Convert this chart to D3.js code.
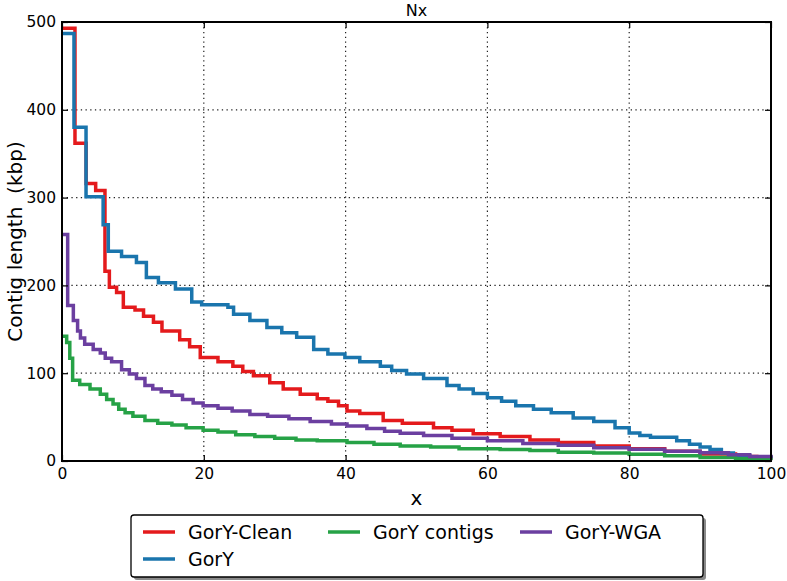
<!DOCTYPE html>
<html>
<head>
<meta charset="utf-8">
<script src="https://cdn.jsdelivr.net/npm/d3@7"></script>
<style>
  body { margin: 0; background: #fff; }
  text { font-family: "DejaVu Sans", sans-serif; fill: #000; }
</style>
</head>
<body>
<svg id="chart"></svg>
<script>
var width = 787;
var height = 581;

var margin = { top: 22, left: 62, bottom: 120, right: 16 };

// series: [x, contig length in kbp]
var goryClean = [[0,493],[1.83,362],[3.4,316],[4.75,308],[6.06,216],[6.68,198],[7.7,192],[8.65,175],[10.3,172],[11.5,165],[12.9,158],[14.1,148],[16.6,138],[18,130],[19.5,118],[22,113],[24.1,108],[25.5,102],[27,97],[29.3,89],[31.2,82],[33.6,76],[36,71],[37.5,68],[39,63],[40.2,57],[42,54],[45.3,46],[48,43],[52.4,38],[55,35],[58,31],[61.8,28],[66,24],[70,21],[75,17],[80,14],[85,11],[90,8],[95,5],[98,4],[100,3]];
var gory = [[0,487],[1.69,380],[3.39,301],[5.8,269],[6.53,239],[8.4,233],[10.5,226],[11.9,209],[13.6,203],[16,196],[18.3,181],[19.7,178],[23.4,175],[24.2,167],[26.5,160],[28.9,152],[31,146],[33.1,141],[35.5,127],[37.5,122],[39.9,118],[42,113],[44.9,108],[46.5,103],[48.6,99],[51,94],[54.3,86],[56,82],[58,77],[60,72],[62,68],[64,63],[66.5,59],[69,55],[72.1,49],[75,45],[78,38],[80,32],[81.5,29],[83,27],[86.7,23],[88.5,19],[90,16],[91.4,13],[93,9],[94.7,6],[97,4],[100,3]];
var goryContigs = [[0,142],[0.66,135],[1.1,117],[1.5,92],[2.5,87],[3.95,82],[5.4,76],[6.3,70],[7.2,65],[8,59],[8.9,55],[10,51],[11.7,46],[13.5,43],[15.5,41],[17.5,38],[19.9,35],[22,33],[24.5,30],[27.2,28],[30,26],[33,24],[36,23],[40.2,21],[44,19],[47.7,17],[52,16],[56,14],[61.8,13],[66,12],[70,10],[75,9],[80,7.6],[85,6],[90,4],[95,2.5],[100,1]];
var goryWGA = [[0,258],[0.8,177],[1.6,160],[2.2,148],[2.6,140],[3.2,133],[4.4,127],[5.4,123],[6.1,117],[7,113],[8.4,104],[9.5,99],[10.5,94],[11.7,86],[12.8,82],[14,79],[15.5,75],[17,70],[18.5,66],[19.9,63],[22,60],[24,57],[26.5,53],[29,51],[32,48],[35,45],[38,42],[40.2,40],[43,37],[45.5,34],[47.7,31.5],[51,29],[55,26],[60,23],[65,20],[70,18],[75,15],[80,13.3],[85,11],[90,9.5],[94,7],[97,5],[100,3]];

var seriesNames = ["GorY-Clean", "GorY", "GorY contigs", "GorY-WGA"];
var seriesData = [goryClean, gory, goryContigs, goryWGA];
var colors = ["#e41a1c", "#1a75ad", "#26a246", "#6b3fa0"];

var xTicks = [0, 20, 40, 60, 80, 100];
var yTicks = [0, 100, 200, 300, 400, 500];

var svg = d3.select("#chart")
    .attr("width", width)
    .attr("height", height);

var xScale = d3.scaleLinear().domain([0, 100]).range([margin.left, width - margin.right]);
var yScale = d3.scaleLinear().domain([0, 500]).range([height - margin.bottom, margin.top]);

var x0 = xScale(0), x1 = xScale(100), y0 = yScale(0), y1 = yScale(500);

// dotted grid
svg.append("g").selectAll("line").data(xTicks.slice(1, -1)).join("line")
    .attr("x1", d => xScale(d)).attr("x2", d => xScale(d))
    .attr("y1", y0).attr("y2", y1)
    .attr("stroke", "#222").attr("stroke-width", 1.2).attr("stroke-dasharray", "1.3,3.4");
svg.append("g").selectAll("line").data(yTicks.slice(1, -1)).join("line")
    .attr("y1", d => yScale(d)).attr("y2", d => yScale(d))
    .attr("x1", x0).attr("x2", x1)
    .attr("stroke", "#222").attr("stroke-width", 1.2).attr("stroke-dasharray", "1.3,3.4");

// lines
var valueline = d3.line()
    .curve(d3.curveStepAfter)
    .x(function(d) { return xScale(d[0]); })
    .y(function(d) { return yScale(d[1]); });

svg.append("g").selectAll("path").data(seriesData).join("path")
    .attr("d", d => valueline(d))
    .attr("fill", "none")
    .attr("stroke", (d, i) => colors[i])
    .attr("stroke-width", 3.5);

// axes, ticks pointing inward on every side
var fmt = d3.format("d");
svg.append("g")
    .attr("transform", `translate(0, ${y0})`)
    .call(d3.axisBottom(xScale).tickValues(xTicks).tickFormat(fmt).tickSizeInner(-6).tickSizeOuter(0).tickPadding(7))
    .call(g => g.select(".domain").remove());
svg.append("g")
    .attr("transform", `translate(0, ${y1})`)
    .call(d3.axisTop(xScale).tickValues(xTicks).tickFormat("").tickSizeInner(-6).tickSizeOuter(0))
    .call(g => g.select(".domain").remove());
svg.append("g")
    .attr("transform", `translate(${x0}, 0)`)
    .call(d3.axisLeft(yScale).tickValues(yTicks).tickFormat(fmt).tickSizeInner(-6).tickSizeOuter(0).tickPadding(6))
    .call(g => g.select(".domain").remove());
svg.append("g")
    .attr("transform", `translate(${x1}, 0)`)
    .call(d3.axisRight(yScale).tickValues(yTicks).tickFormat("").tickSizeInner(-6).tickSizeOuter(0))
    .call(g => g.select(".domain").remove());

svg.selectAll(".tick text").style("font-size", "15.5px").style("font-family", "DejaVu Sans");
svg.selectAll(".tick line").attr("stroke", "#000").attr("stroke-width", 1.2);

svg.append("rect")
    .attr("x", x0).attr("y", y1)
    .attr("width", x1 - x0).attr("height", y0 - y1)
    .attr("fill", "none").attr("stroke", "#000").attr("stroke-width", 2);

// titles
svg.append("text")
    .attr("x", (x0 + x1) / 2).attr("y", 16)
    .attr("text-anchor", "middle")
    .style("font-size", "16px")
    .text("Nx");

svg.append("text")
    .attr("text-anchor", "middle")
    .attr("transform", "translate(22," + ((y0 + y1) / 2) + ")rotate(-90)")
    .style("font-size", "20px")
    .style("white-space", "pre")
    .text("Contig length  (kbp)");

svg.append("text")
    .attr("x", (x0 + x1) / 2).attr("y", 505)
    .attr("text-anchor", "middle")
    .style("font-size", "20px")
    .text("x");

// legend with drop shadow
var legend = svg.append("g");
var lx = 131, ly = 515, lw = 572, lh = 62;
legend.append("rect")
    .attr("x", lx + 3).attr("y", ly + 3).attr("width", lw).attr("height", lh)
    .attr("rx", 3).attr("fill", "#8a8a8a");
legend.append("rect")
    .attr("x", lx).attr("y", ly).attr("width", lw).attr("height", lh)
    .attr("rx", 3).attr("fill", "#fff").attr("stroke", "#000").attr("stroke-width", 1.3);

var legendPos = [[143, 532], [143, 559], [328, 532], [520, 532]];
var entries = legend.selectAll("g.entry").data(seriesNames).join("g")
    .attr("class", "entry")
    .attr("transform", (d, i) => `translate(${legendPos[i][0]}, ${legendPos[i][1]})`);
entries.append("line")
    .attr("x1", 0).attr("x2", 32)
    .attr("stroke", (d, i) => colors[i]).attr("stroke-width", 3.5);
entries.append("text")
    .attr("x", 45).attr("y", 7)
    .style("font-size", "19px")
    .text(d => d);
</script>
</body>
</html>
